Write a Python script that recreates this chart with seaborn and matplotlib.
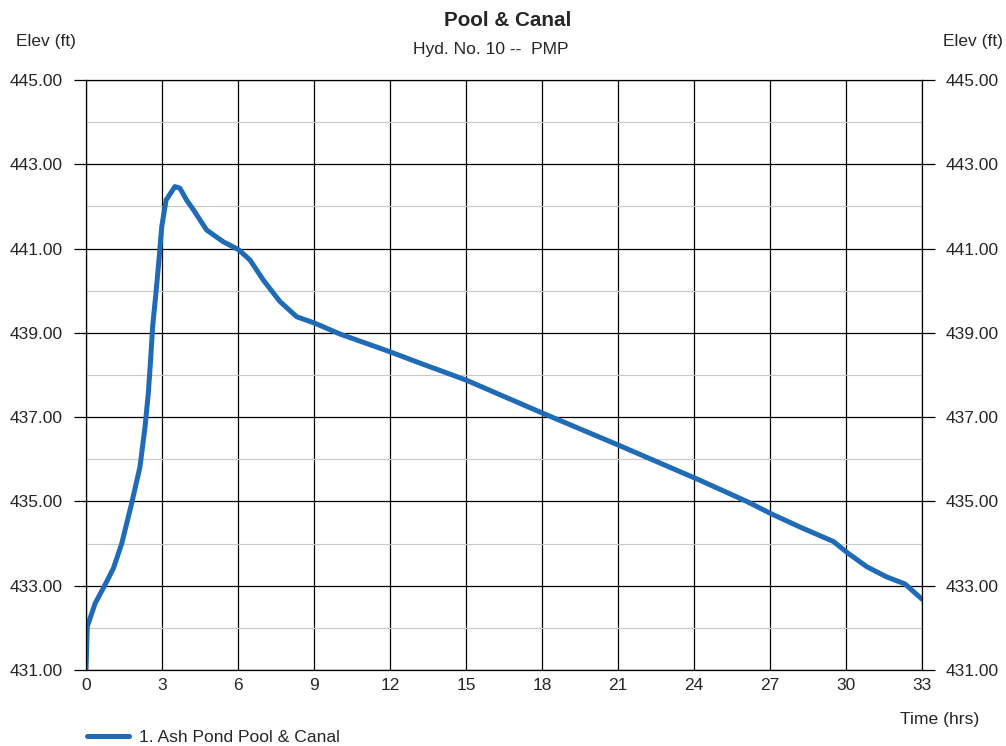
import numpy as np
import pandas as pd
import seaborn as sns
import matplotlib.pyplot as plt
from matplotlib.ticker import FixedLocator, MultipleLocator, FormatStrFormatter

# hydrograph
time_hrs = [0.0, 0.05, 0.36, 0.75, 1.08, 1.41, 1.80, 2.13, 2.33, 2.46, 2.55, 2.63, 2.76,
            2.88, 2.99, 3.16, 3.51, 3.71, 3.97, 4.24, 4.76, 5.42, 6.03, 6.47, 7.0, 7.66,
            8.32, 9.03, 10.03, 12.0, 13.19, 15.0, 18.0, 21.0, 24.24, 26.08, 27.07, 28.19,
            29.5, 30.06, 30.82, 31.6, 32.33, 33.0]
elev_ft = [431.0, 432.03, 432.58, 433.02, 433.41, 434.0, 434.95, 435.82, 436.77, 437.57, 438.36, 439.15, 439.94,
           440.73, 441.52, 442.15, 442.47, 442.43, 442.15, 441.92, 441.44, 441.16, 440.97, 440.73, 440.25, 439.74,
           439.38, 439.23, 438.97, 438.55, 438.28, 437.88, 437.1, 436.34, 435.5, 435.0, 434.7, 434.39,
           434.05, 433.78, 433.45, 433.21, 433.04, 432.68]
y_major = [431, 433, 435, 437, 439, 441, 443, 445]
y_minor = [432, 434, 436, 438, 440, 442, 444]

df = pd.DataFrame({"Time": time_hrs, "Elev": elev_ft})

sns.set_style("white")
plt.rcParams['font.family'] = ['Liberation Sans', 'DejaVu Sans']

fig = plt.figure(figsize=(10.06, 7.46), dpi=100)
ax = fig.add_axes([0.0855, 0.1019, 0.831, 0.7909])

ax.yaxis.set_major_locator(FixedLocator(y_major))
ax.yaxis.set_minor_locator(FixedLocator(y_minor))
ax.xaxis.set_major_locator(MultipleLocator(3))
ax.grid(which="minor", axis="y", color="#c8c8c8", lw=0.8)
ax.grid(which="major", axis="both", color="black", lw=0.9)
ax.set_axisbelow(True)

sns.lineplot(data=df, x="Time", y="Elev", color="#1f6bb8", lw=3.6, ax=ax,
             label="1. Ash Pond Pool & Canal", solid_joinstyle="round", solid_capstyle="round")

ax.set_xlim(0, 33)
ax.set_ylim(431, 445)
ax.yaxis.set_major_formatter(FormatStrFormatter("%.2f"))
ax.set_xlabel("")
ax.set_ylabel("")
for s in ax.spines.values():
    s.set_color("black")
    s.set_linewidth(0.9)
ax.tick_params(axis="y", which="major", length=9, width=0.9, color="black", labelsize=12.5, pad=8)
ax.tick_params(axis="y", which="minor", length=0)
ax.tick_params(axis="x", length=0, labelsize=12.5, pad=6)

ax2 = ax.twinx()
ax2.set_ylim(431, 445)
ax2.yaxis.set_major_locator(FixedLocator(y_major))
ax2.yaxis.set_major_formatter(FormatStrFormatter("%.2f"))
ax2.tick_params(axis="y", length=9, width=0.9, color="black", labelsize=12.5, pad=8)
for s in ax2.spines.values():
    s.set_visible(False)

leg = ax.legend(loc="upper left", bbox_to_anchor=(-0.018, -0.075), frameon=False,
                fontsize=12.6, handlelength=2.4, handletextpad=0.6)

fig.text(0.505, 0.973, "Pool & Canal", ha="center", va="center", fontsize=14.9, fontweight="bold")
fig.text(0.488, 0.933, "Hyd. No. 10 --  PMP", ha="center", va="center", fontsize=12.6)
fig.text(0.046, 0.944, "Elev (ft)", ha="center", va="center", fontsize=12.5)
fig.text(0.967, 0.944, "Elev (ft)", ha="center", va="center", fontsize=12.5)
fig.text(0.934, 0.035, "Time (hrs)", ha="center", va="center", fontsize=12.6)

fig.savefig("out.png", dpi=100)
